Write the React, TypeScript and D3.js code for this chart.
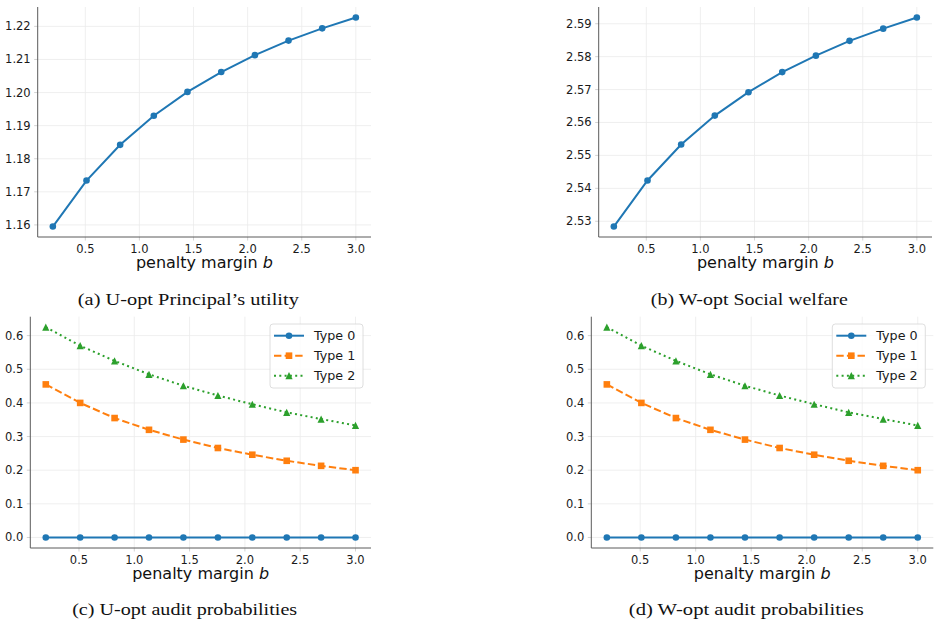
import React, { useRef, useEffect } from 'react';
import * as d3 from 'd3';

// penalty margin b (x values shared by every panel)
const penalty = [0.2, 0.511, 0.822, 1.133, 1.444, 1.756, 2.067, 2.378, 2.689, 3.0];

// (a) principal's utility under U-opt
const principalUtility = [1.1595, 1.1734, 1.1842, 1.193, 1.2002, 1.2062, 1.2113, 1.2157, 1.2194, 1.2227];
// (b) social welfare under W-opt
const socialWelfare = [2.5284, 2.5424, 2.5533, 2.5621, 2.5692, 2.5753, 2.5803, 2.5848, 2.5885, 2.5919];

// (c)/(d) audit probabilities per type
const auditType0 = [0, 0, 0, 0, 0, 0, 0, 0, 0, 0];
const auditType1 = [0.455, 0.4, 0.355, 0.32, 0.291, 0.266, 0.246, 0.228, 0.213, 0.2];
const auditType2 = [0.625, 0.57, 0.525, 0.485, 0.451, 0.422, 0.396, 0.372, 0.352, 0.333];

const typeLabels = ['Type 0', 'Type 1', 'Type 2'];

const xTicks = [0.5, 1.0, 1.5, 2.0, 2.5, 3.0];
const utilityTicks = [1.16, 1.17, 1.18, 1.19, 1.2, 1.21, 1.22];
const welfareTicks = [2.53, 2.54, 2.55, 2.56, 2.57, 2.58, 2.59];
const auditTicks = [0, 0.1, 0.2, 0.3, 0.4, 0.5, 0.6];

const captions = [
    '(a) U-opt Principal\u2019s utility',
    '(b) W-opt Social welfare',
    '(c) U-opt audit probabilities',
    '(d) W-opt audit probabilities',
];

const BLUE = '#1f77b4';
const ORANGE = '#ff7f0e';
const GREEN = '#2ca02c';
const SANS = 'DejaVu Sans, sans-serif';
const SERIF = 'Liberation Serif, serif';

const seriesStyles = [
    { color: BLUE, dash: null, marker: 'circle' },
    { color: ORANGE, dash: '7.4,3.2', marker: 'square' },
    { color: GREEN, dash: '2,3.3', marker: 'triangle' },
];

// matplotlib-style autoscale: data range plus 5% each side
const padded = (vals) => {
    const [lo, hi] = d3.extent(vals);
    const m = (hi - lo) * 0.05;
    return [lo - m, hi + m];
};

const drawMarker = (g, kind, x, y, color) => {
    const s = 3.3;
    if (kind === 'circle') {
        g.append('circle').attr('cx', x).attr('cy', y).attr('r', s).attr('fill', color);
    } else if (kind === 'square') {
        g.append('rect').attr('x', x - s).attr('y', y - s).attr('width', 2 * s).attr('height', 2 * s).attr('fill', color);
    } else {
        const t = 3.6;
        g.append('path')
            .attr('d', `M${x},${y - t}L${x + t},${y + t}L${x - t},${y + t}Z`)
            .attr('fill', color);
    }
};

const drawPanel = (svg, p) => {
    const { left, right, top, bottom, series, yTicks, yFmt, legend, caption, captionLen, captionY } = p;

    const x = d3.scaleLinear().domain(padded(penalty)).range([left, right]);
    const allY = series.flat();
    const y = d3.scaleLinear().domain(padded(allY)).range([bottom, top]);

    const g = svg.append('g');

    // grid
    g.selectAll('.gx').data(xTicks).join('line')
        .attr('x1', d => x(d)).attr('x2', d => x(d))
        .attr('y1', top).attr('y2', bottom)
        .attr('stroke', '#ebebeb').attr('stroke-width', 0.8);
    g.selectAll('.gy').data(yTicks).join('line')
        .attr('x1', left).attr('x2', right)
        .attr('y1', d => y(d)).attr('y2', d => y(d))
        .attr('stroke', '#ebebeb').attr('stroke-width', 0.8);

    // small tick marks
    g.selectAll('.ty').data(yTicks).join('line')
        .attr('x1', left - 3.5).attr('x2', left)
        .attr('y1', d => y(d)).attr('y2', d => y(d))
        .attr('stroke', '#c8c8c8').attr('stroke-width', 0.8);
    g.selectAll('.tx').data(xTicks).join('line')
        .attr('x1', d => x(d)).attr('x2', d => x(d))
        .attr('y1', bottom).attr('y2', bottom + 3.5)
        .attr('stroke', '#c8c8c8').attr('stroke-width', 0.8);

    // spines (left + bottom only)
    g.append('line').attr('x1', left).attr('x2', left).attr('y1', top).attr('y2', bottom)
        .attr('stroke', '#5a5a5a').attr('stroke-width', 1);
    g.append('line').attr('x1', left).attr('x2', right).attr('y1', bottom).attr('y2', bottom)
        .attr('stroke', '#5a5a5a').attr('stroke-width', 1);

    // tick labels
    g.selectAll('.lx').data(xTicks).join('text')
        .attr('x', d => x(d)).attr('y', bottom + 15.5)
        .attr('text-anchor', 'middle')
        .attr('font-family', SANS).attr('font-size', 11.5).attr('fill', '#1a1a1a')
        .text(d => d3.format('.1f')(d));
    g.selectAll('.ly').data(yTicks).join('text')
        .attr('x', left - 7).attr('y', d => y(d))
        .attr('text-anchor', 'end').attr('dominant-baseline', 'central')
        .attr('font-family', SANS).attr('font-size', 11.5).attr('fill', '#1a1a1a')
        .text(d => d3.format(yFmt)(d));

    // x label
    const xl = g.append('text')
        .attr('x', (left + right) / 2).attr('y', bottom + 31)
        .attr('text-anchor', 'middle')
        .attr('font-family', SANS).attr('font-size', 16).attr('fill', '#111');
    xl.append('tspan').text('penalty margin ');
    xl.append('tspan').attr('font-style', 'italic').text('b');

    // lines + markers
    const line = d3.line().x((d, i) => x(penalty[i])).y(d => y(d));
    series.forEach((vals, si) => {
        const st = seriesStyles[si];
        g.append('path')
            .attr('d', line(vals))
            .attr('fill', 'none')
            .attr('stroke', st.color)
            .attr('stroke-width', 2)
            .attr('stroke-dasharray', st.dash);
        vals.forEach((v, i) => drawMarker(g, st.marker, x(penalty[i]), y(v), st.color));
    });

    // legend
    if (legend) {
        const lw = 93, lh = 64;
        const lx = right - 8 - lw, ly = top + 7.3;
        g.append('rect')
            .attr('x', lx).attr('y', ly).attr('width', lw).attr('height', lh)
            .attr('rx', 3)
            .attr('fill', 'white').attr('fill-opacity', 0.8)
            .attr('stroke', '#d6d6d6').attr('stroke-width', 0.8);
        typeLabels.forEach((lab, i) => {
            const st = seriesStyles[i];
            const ry = ly + 11.7 + i * 20;
            g.append('line')
                .attr('x1', lx + 4).attr('x2', lx + 34)
                .attr('y1', ry).attr('y2', ry)
                .attr('stroke', st.color).attr('stroke-width', 2)
                .attr('stroke-dasharray', st.dash);
            drawMarker(g, st.marker, lx + 19, ry, st.color);
            g.append('text')
                .attr('x', lx + 44).attr('y', ry)
                .attr('dominant-baseline', 'central')
                .attr('font-family', SANS).attr('font-size', 12.7).attr('fill', '#1a1a1a')
                .text(lab);
        });
    }

    // subfigure caption
    svg.append('text')
        .attr('x', (left + right) / 2 - 16).attr('y', captionY)
        .attr('text-anchor', 'middle')
        .attr('font-family', SERIF).attr('font-size', 17).attr('fill', '#111')
        .attr('textLength', captionLen).attr('lengthAdjust', 'spacingAndGlyphs')
        .text(caption);
};

const App = () => {
    const svgRef = useRef();

    useEffect(() => {
        const svg = d3.select(svgRef.current);
        svg.selectAll('*').remove();

        drawPanel(svg, {
            left: 37.7, right: 371, top: 7, bottom: 237,
            series: [principalUtility], yTicks: utilityTicks, yFmt: '.2f',
            legend: false, caption: captions[0], captionLen: 221, captionY: 305,
        });
        drawPanel(svg, {
            left: 598.7, right: 932, top: 7, bottom: 237,
            series: [socialWelfare], yTicks: welfareTicks, yFmt: '.2f',
            legend: false, caption: captions[1], captionLen: 197, captionY: 305,
        });
        drawPanel(svg, {
            left: 30.3, right: 371, top: 316.7, bottom: 548,
            series: [auditType0, auditType1, auditType2], yTicks: auditTicks, yFmt: '.1f',
            legend: true, caption: captions[2], captionLen: 225, captionY: 615,
        });
        drawPanel(svg, {
            left: 591.3, right: 933.3, top: 316.7, bottom: 548,
            series: [auditType0, auditType1, auditType2], yTicks: auditTicks, yFmt: '.1f',
            legend: true, caption: captions[3], captionLen: 235, captionY: 615,
        });
    }, []);

    return (
        <svg ref={svgRef} width="940" height="627"
            style={{ position: 'absolute', left: 0, top: 0, background: 'white' }}></svg>
    );
};

export default App;
